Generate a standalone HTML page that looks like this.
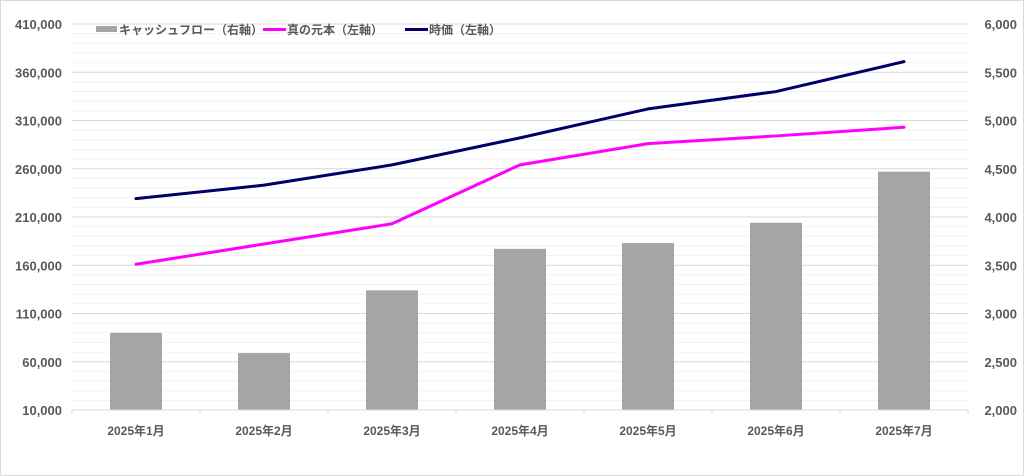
<!DOCTYPE html>
<html><head><meta charset="utf-8"><style>
body{margin:0;background:#fff}
svg{display:block;font-family:"Liberation Sans","Noto Sans CJK JP",sans-serif}
</style></head><body>
<svg id="c" width="1024" height="476">
<rect x="0.5" y="0.5" width="1023" height="475" fill="#fff" stroke="#d9d9d9"/>
<g id="grid"></g><g id="bars"></g><g id="lines"></g><g id="axes"></g>
<g font-size="12" fill="#595959" font-weight="bold">
<rect x="96" y="26" width="21" height="6" fill="#a5a5a5"/>
<text x="119" y="34">キャッシュフロー（右軸）</text>
<rect x="263" y="28" width="23" height="3" fill="#ff00ff"/>
<text x="287" y="34">真の元本（左軸）</text>
<rect x="405" y="28" width="23" height="3" fill="#000066"/>
<text x="429" y="34">時価（左軸）</text>
</g>
</svg>
<script>
const categories=["2025年1月","2025年2月","2025年3月","2025年4月","2025年5月","2025年6月","2025年7月"];
const cashflow=[2800,2590,3240,3670,3730,3940,4470];
const principal=[161000,182000,203000,264000,286000,294000,303000];
const marketValue=[229000,243000,264000,292000,322000,340000,371000];
const leftTicks=[10000,60000,110000,160000,210000,260000,310000,360000,410000];
const rightTicks=[2000,2500,3000,3500,4000,4500,5000,5500,6000];
const NS="http://www.w3.org/2000/svg";
const X0=72,X1=968,Y0=410,Y1=24;
const yL=v=>Y0-(v-10000)/400000*(Y0-Y1);
const yR=v=>Y0-(v-2000)/4000*(Y0-Y1);
const bw=(X1-X0)/categories.length;
const xC=i=>X0+bw*(i+0.5);
function mk(t,a,p){const e=document.createElementNS(NS,t);for(const k in a)e.setAttribute(k,a[k]);p.appendChild(e);return e;}
const grid=document.getElementById('grid'),bars=document.getElementById('bars'),lines=document.getElementById('lines'),axes=document.getElementById('axes');
for(let v=10000;v<=410000;v+=10000){
 const major=(v-10000)%50000===0;
 const l=mk('line',{x1:X0,x2:X1,y1:yL(v),y2:yL(v),stroke:major?'#d9d9d9':'#f2f2f2','stroke-width':1},grid);
 
 
}
leftTicks.forEach(v=>{
 const t=mk('text',{x:62,y:yL(v)+5,'text-anchor':'end','font-size':13,'font-weight':'bold',fill:'#595959'},axes);
 t.textContent=v.toLocaleString('en-US');
 
 
});
rightTicks.forEach(v=>{
 const t=mk('text',{x:1017,y:yR(v)+5,'text-anchor':'end','font-size':13,'font-weight':'bold',fill:'#595959'},axes);
 t.textContent=v.toLocaleString('en-US');
 
 
});
const ax=mk('line',{x1:X0,x2:X1,y1:Y0,y2:Y0,stroke:'#d9d9d9'},axes);


for(let i=0;i<=categories.length;i++){
 const tk=mk('line',{x1:X0+bw*i,x2:X0+bw*i,y1:Y0,y2:Y0+4,stroke:'#d9d9d9'},axes);
 
 
}
categories.forEach((c,i)=>{
 const t=mk('text',{x:xC(i),y:435,'text-anchor':'middle','font-size':12,'font-weight':'bold',fill:'#595959'},axes);
 t.textContent=c;
 
 
});
cashflow.forEach((v,i)=>{
 const r=mk('rect',{x:xC(i)-26,y:yR(v),width:52,height:Y0-yR(v),fill:'#a5a5a5'},bars);
 
 
});
function line(arr,col,name){
 const p=mk('polyline',{points:arr.map((v,i)=>xC(i)+','+yL(v)).join(' '),fill:'none',stroke:col,'stroke-width':3,'stroke-linejoin':'round','stroke-linecap':'round'},lines);
 
 
}
line(principal,'#ff00ff','principal-line');
line(marketValue,'#000066','market-value-line');
</script>
</body></html>
